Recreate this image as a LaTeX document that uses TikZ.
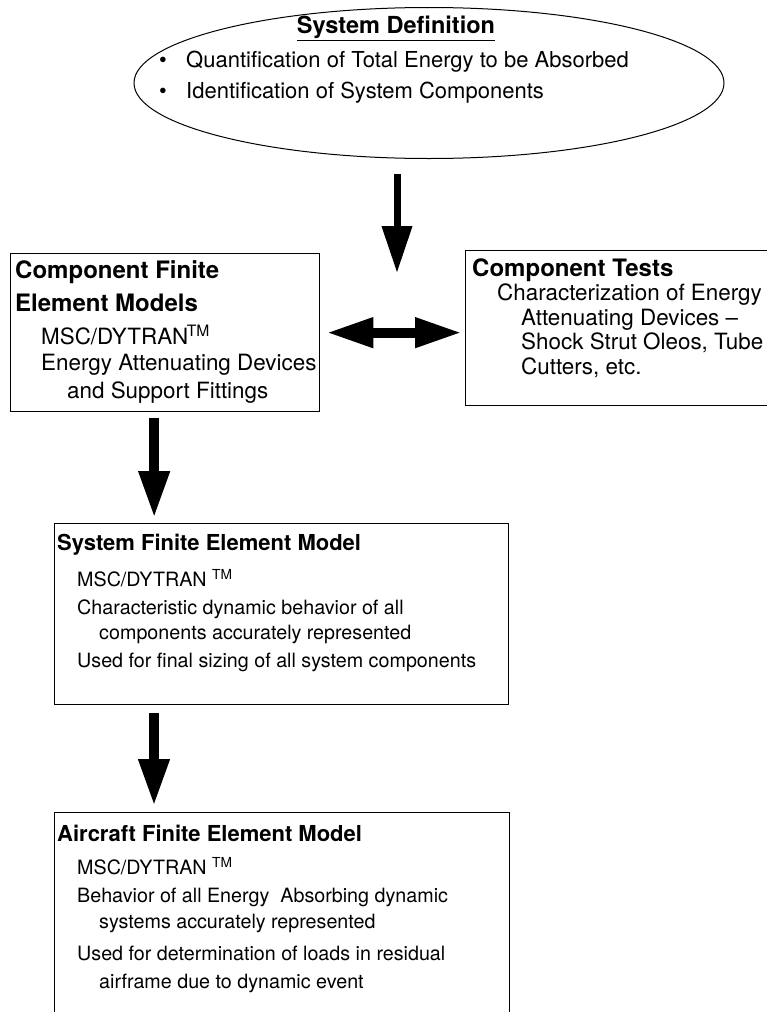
\documentclass[tikz,border=0pt]{standalone}
\usepackage{fontspec}
\setmainfont{TeX Gyre Heros}
\usetikzlibrary{arrows.meta,shapes.geometric,calc}

\begin{document}
\begin{tikzpicture}[x=1pt, y=-1pt,
	box/.style={draw, line width=1.3pt, anchor=north west, inner sep=0pt},
	headbig/.style={anchor=west, inner sep=0pt, font=\fontsize{24}{28}\selectfont\bfseries},
	textbig/.style={anchor=west, inner sep=0pt, font=\fontsize{22.4}{26}\selectfont},
	headsmall/.style={anchor=west, inner sep=0pt, font=\fontsize{22}{26}\selectfont\bfseries},
	textsmall/.style={anchor=west, inner sep=0pt, font=\fontsize{19.7}{24}\selectfont},
	bigarrow/.style={line width=10pt, -{Triangle[length=47pt, width=29pt]}},
	dblarrow/.style={line width=10pt, {Triangle[length=47pt, width=28pt]}-{Triangle[length=47pt, width=28pt]}}]
	\useasboundingbox (0,0) rectangle (767,1012);
	% system definition
	\node[ellipse, draw, line width=1pt, minimum width=590, minimum height=151] (sysdef) at (429,83) {};
	\node[anchor=center, inner sep=0pt, font=\fontsize{23.5}{28}\selectfont\bfseries] (sdtitle) at (396,28) {\underline{System Definition}};
	\foreach \y/\t [count=\i] in {62/{Quantification of Total Energy to be Absorbed}, 93/{Identification of System Components}} {
		\node[textbig, font=\fontsize{22}{26}\selectfont] (sdb\i) at (159,\y) {\textbullet};
		\node[textbig, font=\fontsize{22}{26}\selectfont] (sd\i) at (186,\y) {\t};
	}
	% component finite element models
	\node[box, minimum width=309, minimum height=158] (cfe) at (10,253) {};
	\node[headbig] (cfe1) at (15,272) {Component Finite};
	\node[headbig] (cfe2) at (15,303) {Element Models};
	\foreach \x/\y/\t [count=\i from 3] in {41/335/{MSC/DYTRAN\kern-1.5pt\textsuperscript{TM}}, 41/365/{Energy Attenuating Devices}, 67/393/{and Support Fittings}}
		\node[textbig] (cfe\i) at (\x,\y) {\t};
	% component tests
	\node[box, minimum width=340, minimum height=155] (ct) at (465,250) {};
	\node[headbig] (ct1) at (472,270) {Component Tests};
	\foreach \x/\y/\t [count=\i from 2] in {497/295/{Characterization of Energy}, 521/320/{Attenuating Devices --}, 521/343/{Shock Strut Oleos, Tube}, 521/368/{Cutters, etc.}}
		\node[textbig] (ct\i) at (\x,\y) {\t};
	% system finite element model
	\node[box, minimum width=454, minimum height=181] (sfe) at (54,523) {};
	\node[headsmall] (sfe1) at (57,545) {System Finite Element Model};
	\foreach \x/\y/\t [count=\i from 2] in {77/578/{MSC/DYTRAN \textsuperscript{TM}}, 77/609/{Characteristic dynamic behavior of all}, 99/634/{components accurately represented}, 77/662/{Used for final sizing of all system components}}
		\node[textsmall] (sfe\i) at (\x,\y) {\t};
	% aircraft finite element model
	\node[box, minimum width=455, minimum height=230] (afe) at (54,812) {};
	\node[headsmall] (afe1) at (57,833) {Aircraft Finite Element Model};
	\foreach \x/\y/\t [count=\i from 2] in {77/866/{MSC/DYTRAN \textsuperscript{TM}}, 77/897/{Behavior of all Energy\ \ Absorbing dynamic}, 99/923/{systems accurately represented}, 77/953/{Used for determination of loads in residual}, 99/983/{airframe due to dynamic event}}
		\node[textsmall] (afe\i) at (\x,\y) {\t};
	% arrows
	\coordinate (meet) at (397,273);
	\draw[bigarrow, line width=7pt] ([yshift=-15pt]sysdef.south -| meet) -- (meet);
	\draw[dblarrow] ([xshift=6pt]cfe.east) -- ([xshift=-3pt]cfe.east -| ct.west);
	\draw[bigarrow] ($(cfe.south)+(-11,6)$) -- ($(cfe.south |- sfe.north)+(-11,-5)$);
	\draw[bigarrow] ($(sfe.south west)+(100,8)$) -- ($(sfe.south west |- afe.north)+(100,-6)$);
\end{tikzpicture}
\end{document}
